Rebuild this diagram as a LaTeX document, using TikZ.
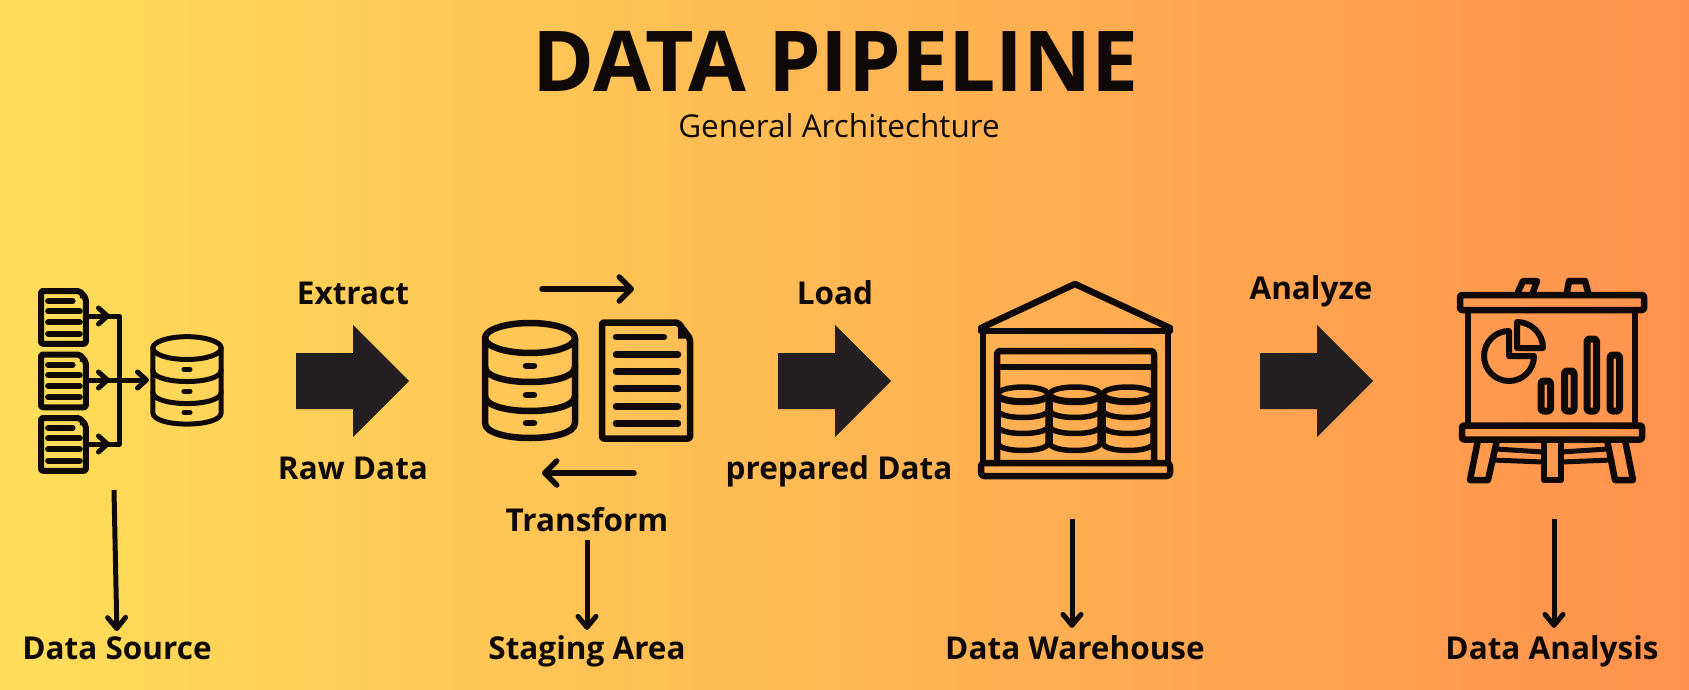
\documentclass[tikz,border=0pt]{standalone}
\usepackage{fontspec}
\setmainfont{Open Sans}
\usepackage{xcolor}
\usetikzlibrary{arrows.meta}
\definecolor{sunleft}{HTML}{FFDE59}
\definecolor{sunright}{HTML}{FF914D}
\definecolor{ink}{HTML}{0F0A08}
\definecolor{blockc}{HTML}{231F20}
\tikzset{
  caption/.style={ink,font=\fontsize{31.5}{34}\selectfont\bfseries,anchor=base,inner sep=0pt},
  icon/.style={ink,line join=round,line cap=round},
  downarrow/.style={ink,line width=5pt,-{Straight Barb[round,length=11pt,width=18pt,line width=5pt]}},
  swaparrow/.style={ink,line width=5.5pt,line cap=round,-{Straight Barb[round,length=12pt,width=24pt,line width=5.5pt]}},
  busarrow/.style={ink,line width=5pt,-{Straight Barb[round,length=9pt,width=16pt,line width=5pt]}},
}
% db: centre x, centre y, scale, line width
\newcommand{\dbicon}[4]{
  \begin{scope}[shift={(#1,#2)},scale=#3,icon,line width=#4]
    \draw (0,-42) ellipse [x radius=45,y radius=15];
    \draw (-45,-42) -- (-45,43) .. controls (-45,63) and (45,63) .. (45,43) -- (45,-42);
    \draw (-45,-13) .. controls (-45,7) and (45,7) .. (45,-13);
    \draw (-45,16) .. controls (-45,36) and (45,36) .. (45,16);
    \foreach \yy in {-14,15,43}
      \draw (-4,\yy) -- (4,\yy);
  \end{scope}
}
% doc: left, top, x scale, y scale, line width, rows as y/end
\newcommand{\docicon}[6]{
  \begin{scope}[shift={(#1,#2)},xscale=#3,yscale=#4,icon,line width=#5]
    \draw[rounded corners=2pt] (0,0) -- (76,0) -- (88,16) -- (88,116) -- (0,116) -- cycle;
    \fill (76,3) -- (76,16) -- (86,16) -- cycle;
    \foreach \yy/\xe in {#6}
      \draw (14,\yy) -- (\xe,\yy);
  \end{scope}
}
% fat arrow: left end
\newcommand{\blockarrow}[1]{
  \fill[blockc] (#1,353) -- (#1+57,353) -- (#1+57,325) -- (#1+113,381) -- (#1+57,437) -- (#1+57,409) -- (#1,409) -- cycle;
}
\begin{document}
\begin{tikzpicture}[x=1pt,y=-1pt]
  \shade[left color=sunleft,right color=sunright] (0,0) rectangle (1689,690);
  \useasboundingbox (0,0) rectangle (1689,690);
  % title
  \node (title) [ink,font=\fontsize{84}{90}\selectfont\bfseries,anchor=base,inner sep=0pt] at (836,92) {DATA PIPELINE};
  \node (subtitle) [ink,font=\fontsize{31.5}{34}\selectfont,anchor=base,inner sep=0pt] at (839,138) {General Architechture};
  % source: three docs into one db
  \docicon{41}{291}{.51}{.455}{6pt}{22/62,45/76,69/76,94/76}
  \docicon{41}{354.5}{.51}{.455}{6pt}{22/62,45/76,69/76,94/76}
  \docicon{41}{418}{.51}{.455}{6pt}{22/62,45/76,69/76,94/76}
  \dbicon{187}{380}{.76}{5pt}
  \coordinate (srcA) at (88,316);
  \coordinate (srcB) at (88,380);
  \coordinate (srcC) at (88,444);
  \coordinate (busA) at (119,316);
  \coordinate (busB) at (119,380);
  \coordinate (busC) at (119,444);
  \coordinate (busIn) at (149,380);
  \draw[ink,line width=5pt,line join=round] (srcA) -- (busA) -- (busC) -- (srcC);
  \draw[ink,line width=5pt] (srcB) -- (busB);
  \draw[busarrow] (srcA) -- (110,316);
  \draw[busarrow] (srcC) -- (110,444);
  \draw[busarrow] (srcB) -- (110,380);
  \draw[busarrow] (busB) -- (busIn);
  % staging
  \dbicon{530}{380}{1}{6.5pt}
  \docicon{602}{322.5}{1}{1}{6.5pt}{14.5/62,32/76,49/76,66/76,84/76,101/76}
  \coordinate (swapL) at (542,289);
  \coordinate (swapR) at (634,289);
  \coordinate (backL) at (542,473);
  \coordinate (backR) at (634,473);
  \draw[swaparrow] (swapL) -- (swapR);
  \draw[swaparrow] (backR) -- (backL);
  % warehouse
  \begin{scope}[icon,line width=6.5pt]
    \draw (981,328) -- (1075,284) -- (1170,328);
    \draw (981,331) -- (1170,331);
    \draw (983,331) -- (983,462);
    \draw (1168,331) -- (1168,462);
    \draw[rounded corners=3pt] (981,463) rectangle (1170,476);
    \draw[rounded corners=3pt] (997,463) -- (997,351) -- (1154,351) -- (1154,463);
    \draw (997,367) -- (1154,367);
  \end{scope}
  \foreach \xx in {1023,1075,1128} {
    \begin{scope}[shift={(\xx,0)},icon,line width=5.5pt]
      \draw (0,394) ellipse [x radius=25,y radius=7];
      \draw (-25,394) -- (-25,443) .. controls (-25,453) and (25,453) .. (25,443) -- (25,394);
      \draw (-25,395) .. controls (-25,405) and (25,405) .. (25,395);
      \draw (-25,410) .. controls (-25,420) and (25,420) .. (25,410);
      \draw (-25,426) .. controls (-25,436) and (25,436) .. (25,426);
    \end{scope}
  }
  % easel
  \begin{scope}[icon,line width=6.5pt]
    \draw (1518,292) -- (1523,281) -- (1537,281) -- (1533,292);
    \draw (1567,292) -- (1569,281) -- (1585,281) -- (1588,292);
    \draw[rounded corners=2pt] (1460,295) rectangle (1644,310);
    \draw (1468,310) -- (1468,425);
    \draw (1635,310) -- (1635,425);
    \draw[rounded corners=2pt] (1462,425.5) rectangle (1642,439.5);
    \draw (1478,440) -- (1470,480) -- (1488,480) -- (1497,440);
    \draw (1607,440) -- (1615,480) -- (1633,480) -- (1625,440);
    \draw (1544,440) -- (1544,480) -- (1561,480) -- (1561,440);
  \end{scope}
  \begin{scope}[icon,line width=5pt]
    \draw (1496,449) -- (1543,452);
    \draw (1492,460) -- (1543,462);
    \draw (1561,452) -- (1608,449);
    \draw (1561,462) -- (1612,460);
  \end{scope}
  \begin{scope}[icon,line width=6pt]
    % pie
    \draw (1509,331) arc[start angle=-90,end angle=-360,radius=25] -- (1509,356) -- cycle;
    \draw (1517,322) arc[start angle=-90,end angle=0,radius=26] -- (1517,348) -- cycle;
  \end{scope}
  % bars
  \foreach \bl/\bt in {1541/381,1564.5/371,1587/339,1610/355}
    \draw[icon,line width=7pt,rounded corners=2.5pt] (\bl,\bt) rectangle (\bl+9.5,411);
  % fat arrows
  \blockarrow{296}
  \blockarrow{778}
  \blockarrow{1260}
  % labels on the flow
  \node (extract) [caption] at (353,304) {Extract};
  \node (rawdata) [caption] at (353,479) {Raw Data};
  \node (load) [caption] at (835,304) {Load};
  \node (prepdata) [caption] at (839,479) {prepared Data};
  \node (transform) [caption] at (587,531) {Transform};
  \node (analyze) [caption] at (1311,299) {Analyze};
  % stage names
  \node (srcname) [caption] at (117,659) {Data Source};
  \node (stagename) [caption] at (587,659) {Staging Area};
  \node (dwname) [caption] at (1075,659) {Data Warehouse};
  \node (ananame) [caption] at (1552,659) {Data Analysis};
  \coordinate (srcfoot) at (114,490);
  \coordinate (dwfoot) at (1072,519);
  \coordinate (anafoot) at (1554,519);
  \draw[downarrow,shorten >=5pt] (srcfoot) -- (srcname.north);
  \draw[downarrow,shorten <=8pt,shorten >=5pt] (transform.south) -- (stagename.north);
  \draw[downarrow,shorten >=7pt] (dwfoot) -- (dwname.north -| dwfoot);
  \draw[downarrow,shorten >=7pt] (anafoot) -- (ananame.north -| anafoot);
\end{tikzpicture}
\end{document}
